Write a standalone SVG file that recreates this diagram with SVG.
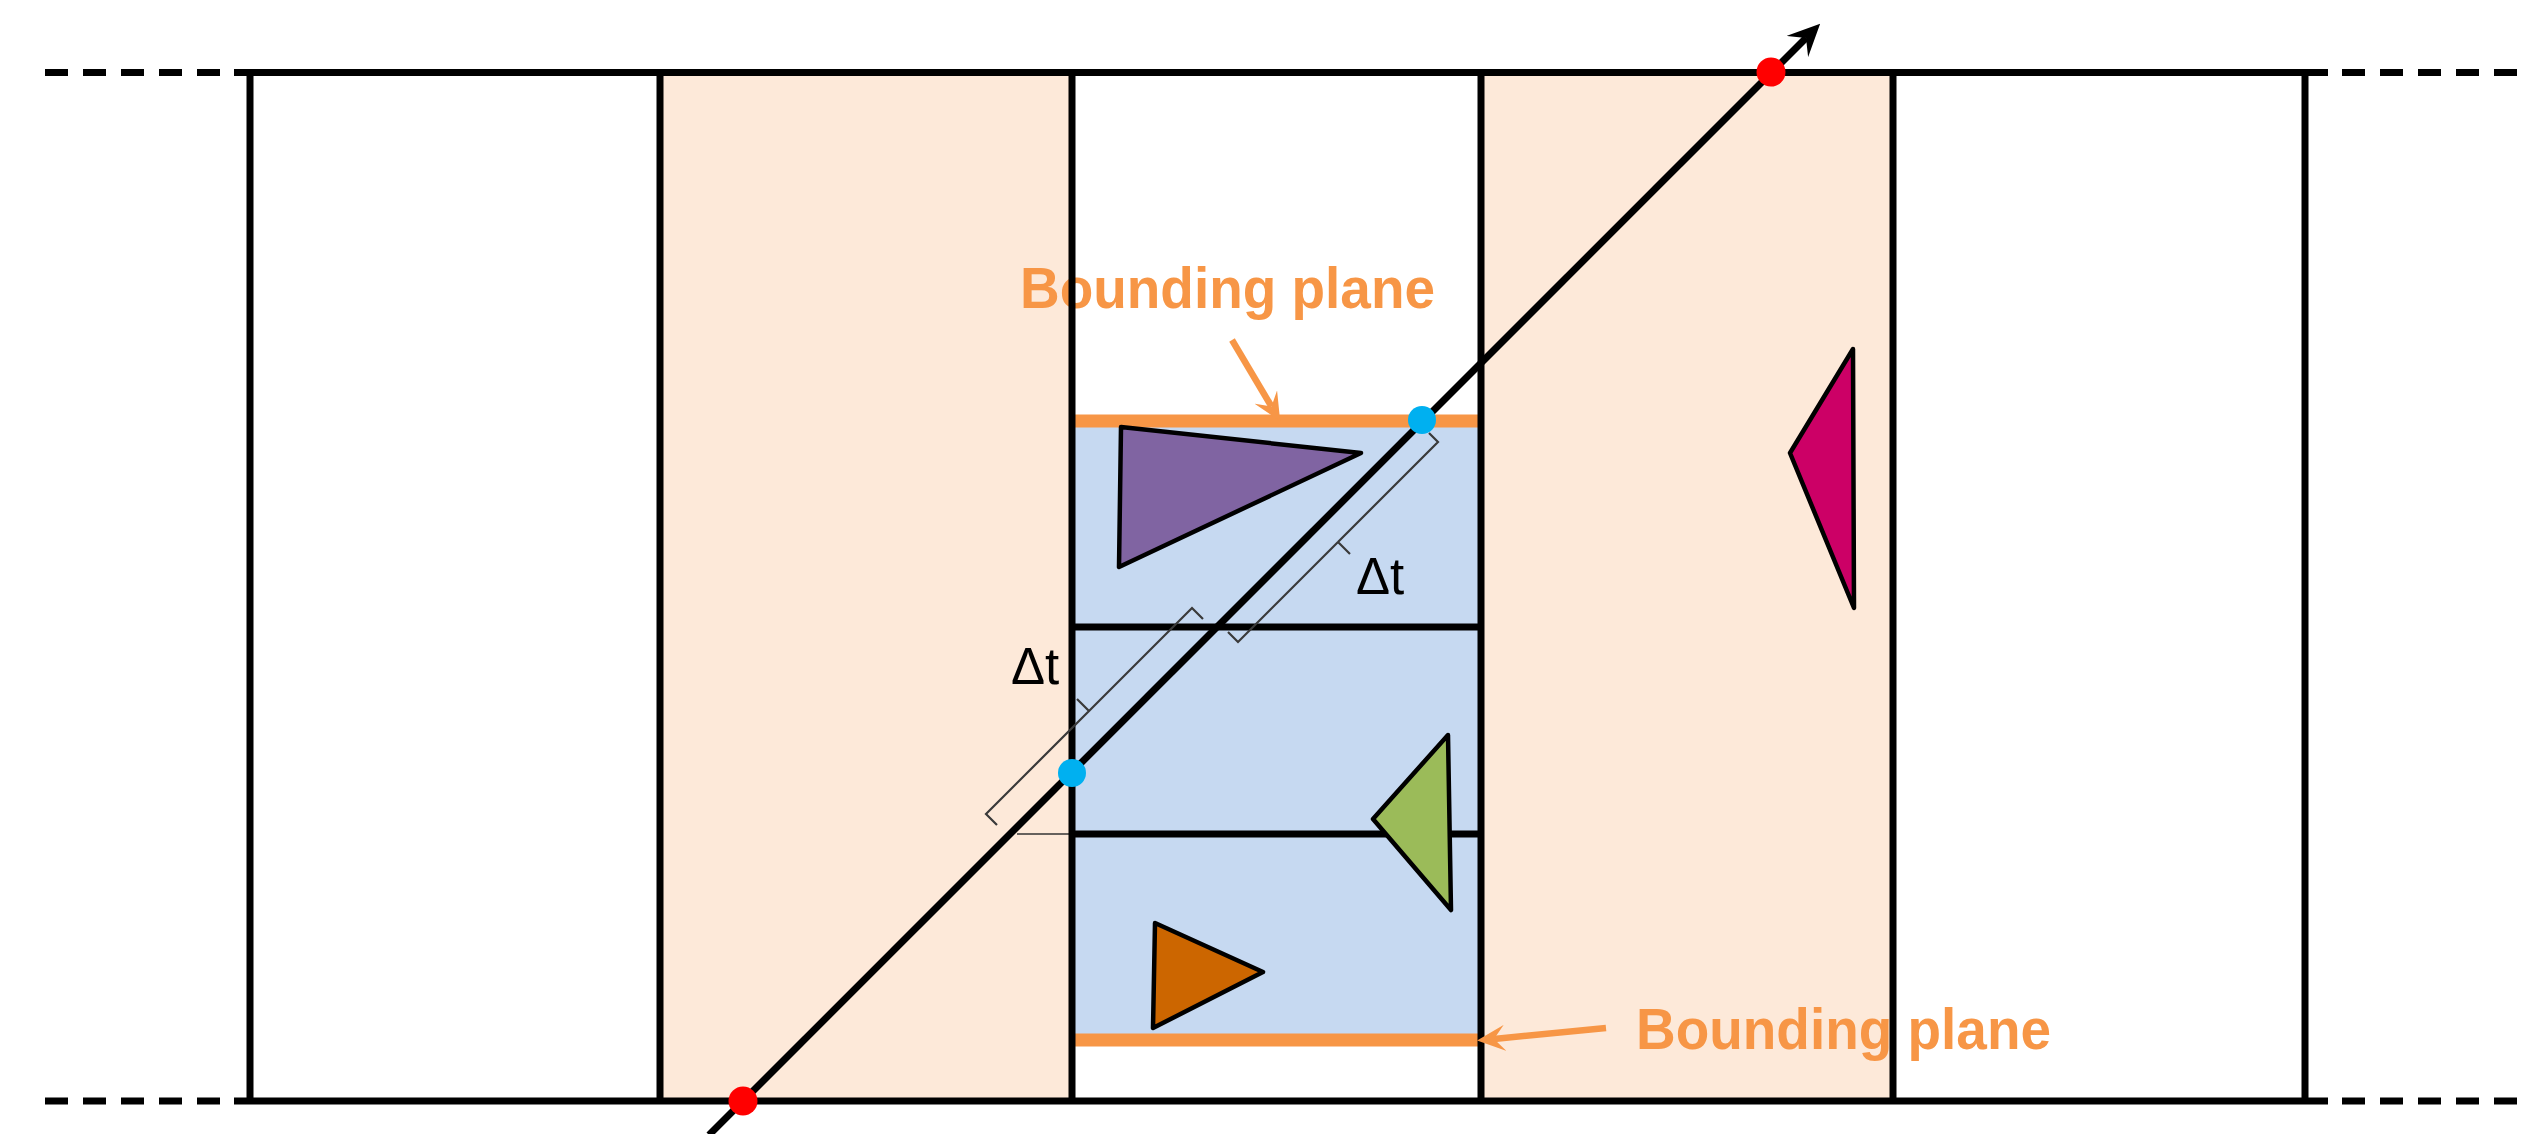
<svg xmlns="http://www.w3.org/2000/svg" width="2521" height="1134" viewBox="0 0 2521 1134">
<defs>
<style>
.frame{stroke:#000;stroke-width:7;fill:none}
.dash{stroke:#000;stroke-width:7;stroke-dasharray:23 15;fill:none}
.tri{stroke:#000;stroke-width:4.5;stroke-linejoin:round}
.brace{stroke:#3a3a3a;stroke-width:2.2;fill:none}
.plane{stroke:#F79646;stroke-width:13}
.band{fill:#FDE9D9}
.lbl{font-family:"Liberation Sans",Arial,sans-serif;font-weight:bold;font-size:58px;fill:#F79646}
.dt{font-family:"Liberation Sans",Arial,sans-serif;font-size:51px;fill:#000}
.blue{fill:#00B0F0}
.red{fill:#FF0000}
</style>
<marker id="arrBlack" markerUnits="userSpaceOnUse" viewBox="0 -15 32 30" markerWidth="32" markerHeight="30" refX="12" refY="0" orient="auto"><path d="M0,-15 L32,0 L0,15 L12,0 z" fill="#000"/></marker>
<marker id="arrOrange" markerUnits="userSpaceOnUse" viewBox="0 -13 28 26" markerWidth="28" markerHeight="26" refX="11" refY="0" orient="auto"><path d="M0,-13 L28,0 L0,13 L11,0 z" fill="#F79646"/></marker>
</defs>
<rect width="2521" height="1134" fill="#fff"/>
<g id="band-left"><rect class="band" x="660" y="72" width="412" height="1029"/></g>
<g id="band-right"><rect class="band" x="1481" y="72" width="412" height="1029"/></g>
<g id="bvh-region">
<rect x="1072" y="421" width="409" height="619" fill="#C6D9F1"/>
<line class="frame" x1="1072" y1="627" x2="1481" y2="627"/>
<line class="frame" x1="1072" y1="834" x2="1481" y2="834"/>
<line x1="1017" y1="834" x2="1072" y2="834" stroke="#333" stroke-width="1.5"/>
</g>
<g id="plane-top"><line class="plane" x1="1072" y1="421" x2="1481" y2="421"/></g>
<g id="plane-bottom"><line class="plane" x1="1072" y1="1040" x2="1481" y2="1040"/></g>
<g id="tri-purple"><polygon class="tri" fill="#8064A2" points="1121,427 1361,453 1119,567"/></g>
<g id="tri-green"><polygon class="tri" fill="#9BBB59" points="1448,735 1373,819 1451,910"/></g>
<g id="tri-orange"><polygon class="tri" fill="#CC6600" points="1155,923 1263,972 1153,1028"/></g>
<g id="tri-magenta"><polygon class="tri" fill="#CC0066" points="1853,349 1790,453 1854,608"/></g>
<g id="label-top"><text class="lbl" x="1020" y="308" textLength="415" lengthAdjust="spacingAndGlyphs">Bounding plane</text></g>
<g id="label-bottom"><text class="lbl" x="1636" y="1049" textLength="415" lengthAdjust="spacingAndGlyphs">Bounding plane</text></g>
<g id="frame">
<line class="dash" x1="45" y1="72.5" x2="226" y2="72.5"/>
<line class="frame" x1="234" y1="72.5" x2="2328" y2="72.5"/>
<line class="dash" x1="2342" y1="72.5" x2="2521" y2="72.5"/>
<line class="dash" x1="45" y1="1101" x2="226" y2="1101"/>
<line class="frame" x1="234" y1="1101" x2="2328" y2="1101"/>
<line class="dash" x1="2342" y1="1101" x2="2521" y2="1101"/>
<line class="frame" x1="250" y1="72" x2="250" y2="1101"/>
<line class="frame" x1="660" y1="72" x2="660" y2="1101"/>
<line class="frame" x1="1072" y1="72" x2="1072" y2="1101"/>
<line class="frame" x1="1481" y1="72" x2="1481" y2="1101"/>
<line class="frame" x1="1893" y1="72" x2="1893" y2="1101"/>
<line class="frame" x1="2305" y1="72" x2="2305" y2="1101"/>
</g>
<g id="connectors">
<path class="brace" d="M1429,433 L1438,442 L1338,542 M1350,554 L1338,542 L1238,642 L1228,632"/>
<path class="brace" d="M1203,619 L1192,608 L1089,711 M1077,699 L1089,711 L986,814 L997,825"/>
<line x1="709" y1="1135" x2="1806" y2="38" stroke="#000" stroke-width="7" marker-end="url(#arrBlack)"/>
<line x1="1232" y1="340" x2="1271.5" y2="406.5" stroke="#F79646" stroke-width="6.5" marker-end="url(#arrOrange)"/>
<line x1="1606" y1="1028" x2="1494" y2="1038.9" stroke="#F79646" stroke-width="6.5" marker-end="url(#arrOrange)"/>
</g>
<g id="dt-labels">
<text class="dt" x="1356" y="594">Δt</text>
<text class="dt" x="1011" y="684">Δt</text>
</g>
<g id="points">
<circle class="blue" cx="1422" cy="420" r="14"/>
<circle class="blue" cx="1072" cy="773" r="14"/>
<circle class="red" cx="1771" cy="72" r="14.5"/>
<circle class="red" cx="743" cy="1101" r="14.5"/>
</g>
</svg>
